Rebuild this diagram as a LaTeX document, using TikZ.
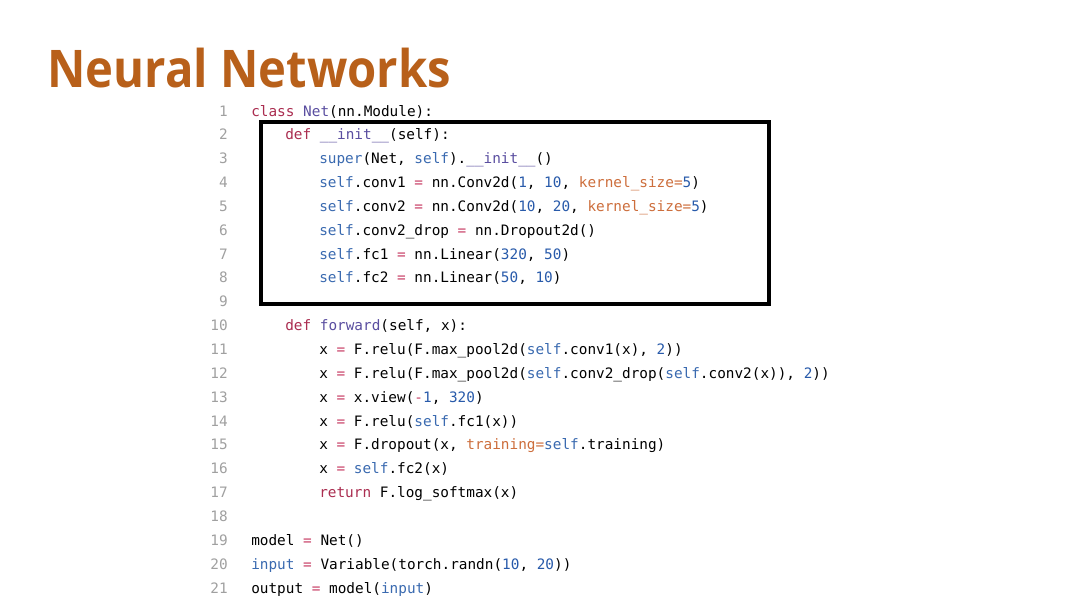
\documentclass[tikz,border=0pt]{standalone}
\usepackage{fontspec}
\setmonofont{DejaVu Sans Mono}
\newfontfamily\titlefont{Open Sans}[FakeStretch=0.91]
\usepackage{xcolor}
\definecolor{colorTitle}{RGB}{184,96,26}
\definecolor{colorKeyword}{RGB}{170,45,80}
\definecolor{colorName}{RGB}{90,78,160}
\definecolor{colorSelf}{RGB}{58,106,176}
\definecolor{colorNumber}{RGB}{40,90,170}
\definecolor{colorOperator}{RGB}{200,60,100}
\definecolor{colorArgument}{RGB}{205,110,60}
\definecolor{colorLineNo}{RGB}{160,160,160}
\usepackage{tikz}
\usetikzlibrary{positioning}
\newcommand{\cKw}[1]{\textcolor{colorKeyword}{#1}}
\newcommand{\cFn}[1]{\textcolor{colorName}{#1}}
\newcommand{\cSelf}[1]{\textcolor{colorSelf}{#1}}
\newcommand{\cNum}[1]{\textcolor{colorNumber}{#1}}
\newcommand{\cOp}[1]{\textcolor{colorOperator}{#1}}
\newcommand{\cArg}[1]{\textcolor{colorArgument}{#1}}
\tikzset{
  code/.style={anchor=mid west, inner sep=0pt, font=\ttfamily\fontsize{10.22}{12}\selectfont},
  lineno/.style={anchor=mid east, inner sep=0pt, text=colorLineNo, font=\ttfamily\fontsize{10.22}{12}\selectfont},
  codebox/.style={draw=black, line width=2.2pt},
  title/.style={anchor=base west, inner sep=0pt, text=colorTitle, font=\titlefont\bfseries\fontsize{36.9}{40}\selectfont}
}

\begin{document}
\begin{tikzpicture}[x=0.025cm, y=-0.025cm]
\useasboundingbox[fill=white] (0,0) rectangle (1080,607);
\node[title] (title) at (47,87) {Neural Networks};
% line numbers
\foreach \i in {1,...,21}
  \node[lineno] (n\i) at (228, {113+23.85*(\i-1)}) {\i};
% code
\node[code] (l1) at (251,113) {\cKw{class} \cFn{Net}(nn.Module):};
\node[code] (l2) at (285,136.85) {\cKw{def} \cFn{\_\_init\_\_}(self):};
\node[code] (l3) at (319,160.7) {\cSelf{super}(Net, \cSelf{self}).\cFn{\_\_init\_\_}()};
\node[code] (l4) at (319,184.55) {\cSelf{self}.conv1 \cOp{=} nn.Conv2d(\cNum{1}, \cNum{10}, \cArg{kernel\_size=}\cNum{5})};
\node[code] (l5) at (319,208.4) {\cSelf{self}.conv2 \cOp{=} nn.Conv2d(\cNum{10}, \cNum{20}, \cArg{kernel\_size=}\cNum{5})};
\node[code] (l6) at (319,232.25) {\cSelf{self}.conv2\_drop \cOp{=} nn.Dropout2d()};
\node[code] (l7) at (319,256.1) {\cSelf{self}.fc1 \cOp{=} nn.Linear(\cNum{320}, \cNum{50})};
\node[code] (l8) at (319,279.95) {\cSelf{self}.fc2 \cOp{=} nn.Linear(\cNum{50}, \cNum{10})};
\node[code] (l10) at (285,327.65) {\cKw{def} \cFn{forward}(self, x):};
\node[code] (l11) at (319,351.5) {x \cOp{=} F.relu(F.max\_pool2d(\cSelf{self}.conv1(x), \cNum{2}))};
\node[code] (l12) at (319,375.35) {x \cOp{=} F.relu(F.max\_pool2d(\cSelf{self}.conv2\_drop(\cSelf{self}.conv2(x)), \cNum{2}))};
\node[code] (l13) at (319,399.2) {x \cOp{=} x.view(\cOp{-}\cNum{1}, \cNum{320})};
\node[code] (l14) at (319,423.05) {x \cOp{=} F.relu(\cSelf{self}.fc1(x))};
\node[code] (l15) at (319,446.9) {x \cOp{=} F.dropout(x, \cArg{training=}\cSelf{self}.training)};
\node[code] (l16) at (319,470.75) {x \cOp{=} \cSelf{self}.fc2(x)};
\node[code] (l17) at (319,494.6) {\cKw{return} F.log\_softmax(x)};
\node[code] (l19) at (251,542.3) {model \cOp{=} Net()};
\node[code] (l20) at (251,566.15) {\cSelf{input} \cOp{=} Variable(torch.randn(\cNum{10}, \cNum{20}))};
\node[code] (l21) at (251,590) {output \cOp{=} model(\cSelf{input})};
% box round __init__
\draw[codebox] (261,122) rectangle (769,304);
\end{tikzpicture}
\end{document}
